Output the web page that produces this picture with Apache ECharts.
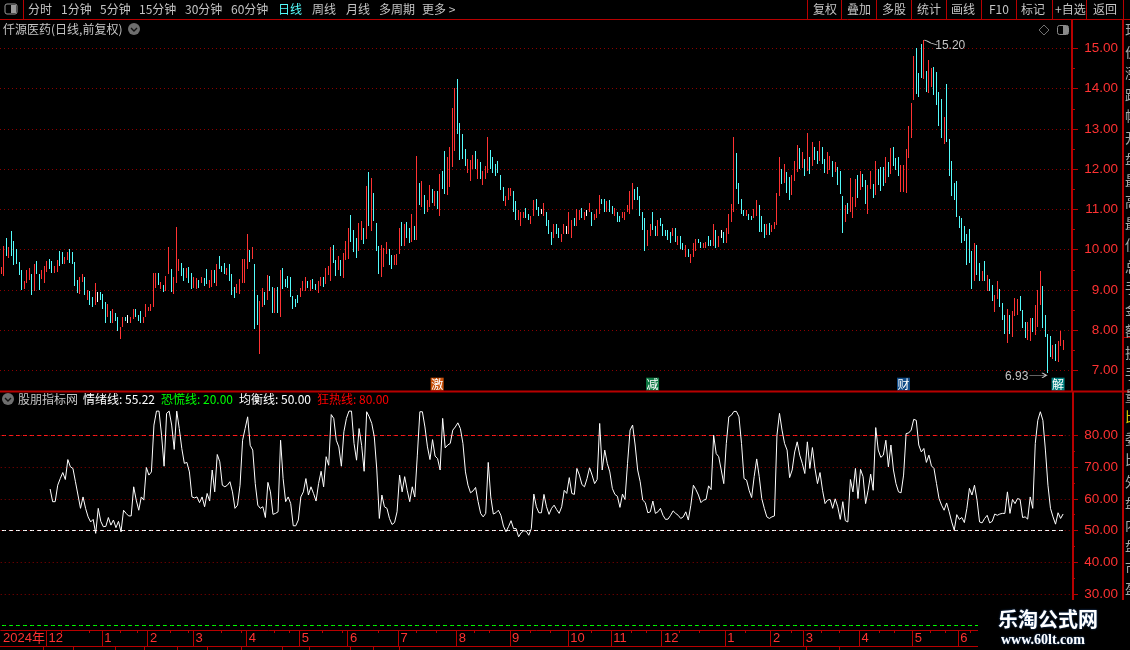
<!DOCTYPE html>
<html><head><meta charset="utf-8">
<script src="https://cdn.jsdelivr.net/npm/echarts@6/dist/echarts.min.js"></script>
<style>html,body{margin:0;padding:0;background:#000;overflow:hidden}#c{width:1130px;height:650px}</style>
</head><body><div id="c"></div>
<script>
const priceHigh = [
9.57,10.09,10.29,10.07,10.47,10.22,10.02,9.69,9.49,9.22,
9.49,9.54,9.39,9.64,9.72,9.39,9.49,9.59,9.72,9.77,
9.72,9.59,9.74,9.97,9.94,9.82,9.94,10.02,9.94,9.69,
9.24,9.32,9.39,9.32,8.99,8.97,8.82,9.17,8.94,8.94,
8.89,8.69,8.64,8.47,8.54,8.42,8.32,8.07,8.32,8.34,
8.39,8.32,8.52,8.52,8.37,8.47,8.34,8.64,8.59,8.64,
9.42,9.42,9.42,9.19,9.12,9.34,10.07,9.52,9.32,10.57,
9.77,9.67,9.54,9.54,9.57,9.42,9.32,9.29,9.24,9.32,
9.29,9.52,9.24,9.49,9.49,9.64,9.84,9.59,9.67,9.54,
9.64,9.39,9.07,9.14,9.27,9.77,9.77,10.39,9.99,10.07,
9.64,8.87,8.72,9.04,8.94,9.37,9.34,9.07,9.04,9.07,
9.49,9.54,9.27,9.34,9.32,8.84,8.77,8.87,9.04,9.22,
9.32,9.22,9.24,9.27,9.14,9.22,9.32,9.32,9.54,9.59,
10.07,10.12,9.74,9.84,9.74,9.92,10.22,10.54,10.87,10.49,
10.29,10.67,10.72,10.54,11.59,11.94,11.79,11.42,10.67,10.09,
10.13,10.05,10.20,10.03,9.88,9.88,9.90,10.53,10.68,10.63,
10.70,10.55,10.88,10.58,12.32,11.67,11.70,11.35,11.23,11.60,
11.50,11.47,11.45,11.87,11.95,12.45,12.30,12.55,13.52,14.02,
14.24,13.14,12.87,12.50,12.25,12.22,12.35,12.45,12.25,12.17,
11.95,12.07,12.80,12.47,12.30,12.12,12.20,11.85,11.55,11.33,
11.53,11.53,11.45,11.20,10.98,10.93,10.95,11.03,10.90,10.83,
11.23,11.25,11.05,11.00,11.15,10.93,10.75,10.45,10.63,10.63,
10.53,10.40,10.63,10.60,10.93,10.73,10.78,11.00,10.98,11.03,
10.93,10.98,11.15,10.93,10.90,11.00,11.37,11.27,11.27,11.20,
11.23,11.08,11.03,10.95,10.83,10.93,10.93,11.10,11.45,11.65,
11.50,11.55,11.33,10.95,10.80,10.48,10.63,10.95,10.60,10.75,
10.78,10.65,10.50,10.48,10.43,10.53,10.53,10.35,10.35,10.18,
10.13,10.03,9.90,10.16,10.26,10.26,10.20,10.18,10.20,10.35,
10.23,10.63,10.50,10.33,10.50,10.43,10.55,10.90,11.13,12.80,
12.40,11.65,11.27,10.98,10.98,10.90,10.83,11.00,11.23,11.10,
10.83,10.63,10.63,10.66,10.61,10.68,11.40,12.30,12.00,12.13,
11.93,11.80,11.85,12.20,12.60,12.53,12.43,12.25,12.90,12.30,
12.67,12.55,12.45,12.70,12.55,12.25,12.43,12.33,12.20,12.18,
12.05,11.95,11.33,11.10,11.15,11.78,11.30,11.75,11.85,11.95,
11.88,11.73,11.60,11.95,11.63,12.20,12.00,12.05,12.05,12.30,
12.18,12.53,12.55,12.28,12.30,12.10,12.10,12.50,13.07,13.65,
14.81,15.01,14.40,15.10,15.20,14.44,14.72,14.52,14.54,14.42,
13.92,13.75,13.29,14.12,12.75,12.20,11.65,11.70,10.83,10.80,
10.60,10.38,10.51,9.98,10.18,10.11,9.66,9.48,9.71,9.38,
9.28,9.13,8.88,9.23,9.03,8.68,8.38,8.53,8.38,8.48,
8.81,8.78,8.86,8.51,8.21,8.21,8.31,8.31,8.63,9.01,
9.46,9.11,8.38,7.91,7.86,7.63,7.66,7.73,7.98,7.76];
const priceLow = [
9.40,9.34,9.84,9.79,9.84,9.62,9.64,9.37,8.99,9.02,
9.17,9.24,8.87,8.97,9.39,8.99,9.27,9.17,9.44,9.52,
9.42,9.42,9.44,9.59,9.64,9.64,9.74,9.67,9.64,9.09,
8.92,8.89,9.19,8.87,8.74,8.62,8.59,8.62,8.69,8.74,
8.52,8.19,8.34,8.19,8.19,8.22,7.99,7.79,8.07,8.22,
8.19,8.17,8.29,8.32,8.22,8.17,8.19,8.34,8.47,8.49,
8.59,9.04,9.12,9.02,8.94,8.97,9.39,8.94,8.89,9.17,
9.47,9.34,9.22,9.29,9.17,9.02,9.04,9.02,9.04,9.17,
9.09,9.14,9.04,9.07,9.17,9.09,9.52,9.44,9.39,9.37,
9.22,8.87,8.79,8.92,8.89,9.17,9.17,9.52,9.69,9.77,
8.02,8.14,7.42,8.59,8.62,8.74,8.97,8.42,8.44,8.42,
8.32,9.02,9.07,9.04,8.82,8.52,8.57,8.67,8.82,8.97,
8.97,9.04,8.97,9.02,8.99,8.92,9.09,9.07,9.14,9.37,
9.22,9.67,9.34,9.49,9.34,9.29,9.74,9.77,10.19,9.94,
9.79,9.97,10.24,10.14,10.27,10.59,10.47,10.72,9.97,9.39,
9.33,9.56,9.90,9.63,9.53,9.63,9.63,9.90,10.10,10.10,
10.30,10.18,10.20,10.23,10.25,11.10,11.07,10.88,10.93,11.05,
11.15,11.08,11.00,10.85,11.50,11.38,11.35,11.55,12.05,12.45,
12.87,12.22,12.25,12.07,11.90,11.72,12.00,12.00,11.75,11.77,
11.62,11.77,11.90,12.00,11.90,11.82,11.90,11.48,11.20,11.08,
11.23,11.33,10.93,10.73,10.75,10.58,10.80,10.78,10.75,10.65,
10.83,10.98,10.85,10.88,10.85,10.58,10.40,10.13,10.30,10.38,
10.28,10.20,10.40,10.40,10.38,10.30,10.58,10.58,10.73,10.78,
10.73,10.85,10.93,10.58,10.73,10.80,10.88,11.13,10.95,10.93,
10.95,10.88,10.83,10.68,10.68,10.78,10.73,10.93,10.90,11.00,
11.23,11.23,10.83,10.50,9.98,10.10,10.35,10.48,10.35,10.35,
10.58,10.35,10.33,10.23,10.18,10.35,10.20,10.13,10.03,10.00,
9.83,9.81,9.66,9.81,9.98,10.16,10.05,10.05,10.05,10.10,
10.10,10.10,10.05,10.08,10.30,10.18,10.18,10.40,10.70,10.95,
11.50,11.13,10.88,10.83,10.83,10.73,10.73,10.80,10.83,10.43,
10.43,10.28,10.36,10.36,10.43,10.51,10.61,11.33,11.63,11.65,
11.40,11.23,11.35,11.70,11.93,12.00,12.03,11.83,11.95,11.88,
12.08,12.23,12.13,12.20,12.13,11.90,11.88,11.98,11.80,11.93,
11.60,11.38,10.42,10.68,10.88,10.93,10.78,11.05,11.28,11.48,
11.55,11.13,10.88,11.50,11.28,11.35,11.60,11.45,11.58,11.65,
11.80,11.88,12.08,11.98,11.83,11.43,11.43,11.40,12.27,12.77,
13.71,13.87,13.79,14.27,14.25,13.92,13.90,14.05,13.84,13.60,
13.07,12.77,12.63,12.67,11.83,11.33,11.23,10.81,10.53,10.18,
10.21,9.61,9.66,9.03,9.23,9.38,9.23,9.23,9.23,8.98,
8.98,8.73,8.46,8.78,8.58,8.26,7.91,7.68,7.91,7.83,
8.36,8.38,8.48,8.06,7.81,7.76,7.73,7.96,7.88,8.08,
8.63,8.06,7.83,6.93,7.33,7.28,7.23,7.21,7.61,7.51];
const barTone = ("rrcrcccccr"+"rrcrccrrrc"+"crrccrrccc"+"crrcrccrwc"+"ccrcrccrrc"+"wrrcccrrrr"+"rrcrcrrcrr"+"rccrccrrcr"+"ccrrcrcccr"+"cccrrrrrcr"+
"ccrrcrccrc"+"rcccccccrr"+"rcrccrrcrr"+"rccrcrrrcc"+"crrcrcrccc"+"rrrccrrrcr"+"ccrcrcrcrr"+"crcrccrrrr"+"ccccrrrcrc"+"rrrccccccr"+
"rrccrrrccr"+"rccwrcccrc"+"crrwrrcrrc"+"rwrcrrrccr"+"ccrccrrrrr"+"cccccrrccr"+"cccccrcrcc"+"rcrrrccrrc"+"crcrwcrrrr"+"ccccrccrrc"+
"ccrcrrrrcr"+"ccrrrcrcrc"+"rccrccrrcr"+"cccrcrrrcr"+"ccrrcrcccr"+"crcccrrrrr"+"rcccrcrrcc"+"ccrccccccc"+"ccccrccrcr"+"ccrrcccrcr"+
"rrcccrrcrr"+"rccccrcrrr").split('');
const sentiment = [
63.1,59.1,59.1,64.3,66.4,68.3,66.1,72.4,70.1,
69.6,65.4,61.2,57.0,60.6,57.0,54.3,52.7,53.5,49.1,
57.0,52.9,51.2,51.3,54.1,51.7,53.3,50.9,52.9,49.6,
56.4,55.4,54.6,54.6,63.8,59.6,56.4,60.6,59.6,69.9,
67.5,68.5,83.3,87.7,87.7,80.1,70.3,87.0,87.7,83.3,
75.6,87.7,82.2,75.9,71.2,71.5,68.5,60.6,60.3,60.6,
58.8,60.6,57.5,61.7,59.3,69.1,62.2,74.0,71.7,64.3,
63.8,64.3,65.4,62.2,57.0,58.0,64.3,78.5,82.2,85.9,
76.9,75.4,64.8,58.0,57.0,57.5,54.1,65.2,62.2,55.1,
55.4,55.9,78.5,66.4,59.1,60.6,58.5,51.5,51.5,53.3,
60.6,62.2,66.4,61.2,63.8,61.7,59.3,64.8,68.7,63.8,
73.3,70.6,86.6,85.4,78.5,76.4,70.3,81.2,85.4,87.7,
87.7,77.5,72.2,82.2,76.9,68.7,87.5,85.9,83.8,79.6,
69.1,53.8,61.2,57.5,57.0,53.8,51.9,52.5,55.9,67.5,
62.2,67.0,62.7,59.1,63.8,60.6,73.8,87.5,87.5,
82.7,76.4,72.4,78.7,73.5,72.7,69.1,85.4,76.1,
77.0,77.5,81.7,82.7,84.0,82.2,77.5,68.5,64.3,61.9,
62.5,63.6,59.1,55.4,54.3,55.4,71.5,60.6,
55.2,55.6,56.4,54.8,51.4,49.6,51.2,53.1,50.6,50.6,
48.0,49.3,49.9,49.8,48.5,50.6,61.5,57.5,55.6,55.6,
61.4,57.5,55.1,57.0,58.0,56.6,55.4,57.5,62.7,
61.7,66.7,61.7,61.4,69.6,67.5,64.5,63.8,66.4,69.8,
67.5,64.8,66.1,83.8,69.1,75.4,71.2,68.5,63.3,
61.4,60.8,57.3,61.5,59.8,71.2,81.7,83.3,77.0,69.1,
65.4,59.6,58.8,55.6,55.9,59.3,55.4,55.9,57.0,54.8,
53.5,53.6,54.8,56.2,55.4,54.8,53.8,54.3,55.9,53.3,58.0,
64.3,62.9,61.2,58.8,59.6,59.8,64.1,62.9,80.1,74.3,
73.3,69.1,64.8,77.5,85.9,86.4,87.6,87.6,85.9,77.5,
66.4,65.9,62.7,
60.4,67.0,72.6,67.0,60.1,57.0,54.3,53.8,54.3,
54.6,80.1,87.0,81.7,77.5,75.4,66.7,69.1,
74.8,78.0,73.8,71.2,68.0,78.0,69.6,76.2,69.6,64.8,
68.3,62.7,58.5,59.6,59.8,57.0,60.0,57.5,53.5,59.1,
53.1,52.7,66.1,62.2,69.6,60.1,69.3,67.0,58.5,
62.7,67.8,62.7,82.5,75.4,73.1,73.8,78.5,70.1,77.0,
69.1,64.8,62.2,61.9,67.5,80.6,80.8,81.7,85.1,84.8,
77.0,74.8,75.9,71.5,73.8,70.4,69.6,64.8,60.1,
58.0,56.4,58.7,55.9,52.7,50.1,55.0,53.5,54.1,52.5,
57.0,63.3,61.2,64.3,59.6,52.7,52.4,53.8,54.8,52.4,
52.9,55.2,54.8,55.2,55.4,55.4,62.2,55.4,59.8,58.5,
60.1,59.8,54.1,54.3,53.6,60.6,57.0,77.5,84.8,
87.5,84.8,75.4,64.3,57.0,54.3,52.0,55.6,53.8,
55.22];
const sentimentStart = 19;
const slotCount = 423;
const priceTicks = [7,8,9,10,11,12,13,14,15];
const priceHalfTicks = [7.5,8.5,9.5,10.5,11.5,12.5,13.5,14.5];
const moodTicks = [30,40,50,60,70,80];
const moodHalfTicks = [35,45,55,65,75];
const panicLevel = 20, balanceLevel = 50, maniaLevel = 80, latestMood = 55.22;
const monthStarts = [0,18,40,58,76,97,118,137,157,180,201,224,241,261,286,304,317,339,360,378];
const monthNames = ['2024年','12','1','2','3','4','5','6','7','8','9','10','11','12','1','2','3','4','5','6'];
const weekTicks = [24,35,47,54,67,74,87,95,108,114,127,135,149,164,172,187,193,209,217,233,249,255,268,276,294,312,324,331,347,353,367,373,383];
const signalNames = ['激','减','财','解'];
const signalSlots = [172,257,356,417];
const toolbarLeft = ['分时','1分钟','5分钟','15分钟','30分钟','60分钟','日线','周线','月线','多周期','更多 >'];
const toolbarRight = ['复权','叠加','多股','统计','画线','F10','标记','+自选','返回'];

const RED='#ff3232', CYAN='#54fcfc', AXIS='#b80000', GRID='#8c0000', TXT='#c4c4c4';
const CJK='"Noto Sans CJK SC","Liberation Sans",sans-serif';
const NUM='"Liberation Sans","Noto Sans CJK SC",sans-serif';
const toneColor={r:RED,c:CYAN,w:'#ffffff'};
const slots = Array.from({length:slotCount},(_,i)=>String(i));
const candles = priceHigh.map((h,i)=>[i,h,priceLow[i]]);
const mood = slots.map((_,i)=> i>=sentimentStart && i-sentimentStart<sentiment.length ? sentiment[i-sentimentStart] : null);
const lastSlot = priceHigh.length-1;
const monthMap = {}; monthStarts.forEach((s,i)=>monthMap[s]=monthNames[i]);

const g=[];
const text=(x,y,t,fill,font)=>g.push({type:'text',x,y,z:20,silent:true,style:{text:t,fill:fill||TXT,font:font||('12px '+CJK),textVerticalAlign:'middle'}});
const line=(x1,y1,x2,y2,c,w)=>g.push({type:'line',z:15,silent:true,shape:{x1,y1,x2,y2},style:{stroke:c||AXIS,lineWidth:w||1}});
line(0,19.5,1130,19.5);
[23,807,841,876,911,946,981,1016,1052,1086,1123].forEach(x=>line(x+.5,0,x+.5,19));
g.push({type:'rect',z:20,silent:true,shape:{x:5,y:4,width:12,height:10,r:2},style:{fill:'#000',stroke:'#9a9a9a',lineWidth:1}});
g.push({type:'rect',z:21,silent:true,shape:{x:11,y:5,width:5,height:8},style:{fill:'#9a9a9a'}});
[28,61,100,139,185,231,278,312,346,379,422].forEach((x,i)=>text(x,9.5,toolbarLeft[i],i===6?'#54fcfc':TXT));
[813,847,882,917,951,989,1021,1055,1093].forEach((x,i)=>text(x,9.5,toolbarRight[i]));
text(3,29,'仟源医药(日线,前复权)');
const chevron=(cx,cy)=>{
  g.push({type:'circle',z:20,silent:true,shape:{cx,cy,r:6},style:{fill:'#6e6e6e'}});
  g.push({type:'polyline',z:21,silent:true,shape:{points:[[cx-3,cy-1],[cx,cy+2],[cx+3,cy-1]]},style:{stroke:'#111',lineWidth:1.4,fill:'none'}});
};
chevron(134,29);
g.push({type:'polygon',z:20,silent:true,shape:{points:[[1044,25],[1049,30],[1044,35],[1039,30]]},style:{fill:'none',stroke:'#707070',lineWidth:1}});
g.push({type:'rect',z:20,silent:true,shape:{x:1057.5,y:25.5,width:11,height:9,r:2},style:{fill:'#000',stroke:'#8a8a8a',lineWidth:1}});
g.push({type:'rect',z:21,silent:true,shape:{x:1063,y:26,width:5,height:8},style:{fill:'#8a8a8a'}});
line(0,391.5,1130,391.5,AXIS,2);
line(1073,391,1073,600,AXIS,2);
line(1123,20,1123,600,AXIS,2);
line(1123,337.5,1130,337.5);
chevron(8,399);
text(18,399.5,'股朋指标网');
text(83,399.5,'情绪线: '+latestMood.toFixed(2),'#ffffff');
text(161,399.5,'恐慌线: '+panicLevel.toFixed(2),'#00ff00');
text(239,399.5,'均衡线: '+balanceLevel.toFixed(2),'#ffffff');
text(317,399.5,'狂热线: '+maniaLevel.toFixed(2),'#ff0000');
const sideChars=['现','价','涨','跌','幅','开','盘','最','高','最','低','总','手','金','额','换','手','量','比','委','比','外','盘','内','盘','市','盈'];
sideChars.forEach((c,i)=>text(1125,30+i*21.5,c,i===18?'#d8c800':'#a8a8a8','14px '+CJK));
g.push({type:'rect',z:30,silent:true,shape:{x:978,y:605,width:152,height:45},style:{fill:'#000'}});
line(0,646.5,978,646.5);
[43,73,115,144,177,207,241,282,309,350,373,399,806,839].forEach(x=>line(x+.5,647,x+.5,650));
g.push({type:'text',x:998,y:619,z:31,silent:true,style:{text:'乐淘公式网',fill:'#fff',font:'bold 20px '+CJK,textVerticalAlign:'middle',textShadowColor:'#2a5a9a',textShadowBlur:2}});
g.push({type:'text',x:1001,y:640,z:31,silent:true,style:{text:'www.60lt.com',fill:'#fff',font:'bold 14px "Liberation Serif",serif',textVerticalAlign:'middle',textShadowColor:'#2a5a9a',textShadowBlur:2}});

const signalColors=['#c8500a','#0e7a44','#0f4a86','#008080'];
const signalMarks = signalNames.map((n,i)=>({
  coord:[signalSlots[i],6.66],symbol:'rect',symbolSize:[13,13],itemStyle:{color:signalColors[i],borderWidth:0},
  label:{show:true,formatter:n,position:'inside',color:'#fff',fontSize:12,fontFamily:CJK}
}));
const hiSlot = priceHigh.indexOf(Math.max(...priceHigh));
const loSlot = priceLow.indexOf(Math.min(...priceLow));
const noteMarks = [
 {coord:[hiSlot,priceHigh[hiSlot]],symbol:'path://M0 0L3 1L7 3L14 5',symbolSize:[13,5],symbolOffset:[7,2],itemStyle:{color:'none',borderColor:TXT,borderWidth:1},label:{show:false}},
 {coord:[hiSlot,priceHigh[hiSlot]],symbol:'circle',symbolSize:1,itemStyle:{color:'rgba(0,0,0,0)'},label:{show:true,position:'right',distance:11,offset:[0,5],formatter:priceHigh[hiSlot].toFixed(2),color:TXT,fontSize:12,fontFamily:NUM}},
 {coord:[loSlot,priceLow[loSlot]],symbol:'path://M0 3L16 3L12 0L16 3L12 6',symbolSize:[17,5],symbolOffset:[-10,2],itemStyle:{color:'none',borderColor:TXT,borderWidth:1},label:{show:false}},
 {coord:[loSlot,priceLow[loSlot]],symbol:'circle',symbolSize:1,itemStyle:{color:'rgba(0,0,0,0)'},label:{show:true,position:'left',distance:19,offset:[0,3],formatter:priceLow[loSlot].toFixed(2),color:TXT,fontSize:12,fontFamily:NUM}}
];
// the three reference levels are flat series over the traded slots
const levelSeries=(name,v,c)=>({type:'line',name,xAxisIndex:1,yAxisIndex:2,silent:true,showSymbol:false,
  data:priceHigh.map(()=>v),lineStyle:{color:c,type:[4,3],width:1}});

const chart=echarts.init(document.getElementById('c'),null,{renderer:'canvas'});
const tickAxis=(o)=>Object.assign({type:'value',position:'right',axisLine:{show:false},axisLabel:{show:false},splitLine:{show:false}},o);
const priceMin=6.4907, priceMax=15.708, moodMin=18.579, moodMax=94.053;
chart.setOption({
 animation:false,backgroundColor:'#000',
 grid:[{left:0,width:1072,top:20,height:371},{left:0,width:1072,top:391,height:239}],
 xAxis:[
  {type:'category',gridIndex:0,data:slots,show:false,boundaryGap:true},
  {type:'category',gridIndex:1,data:slots,boundaryGap:true,position:'bottom',
   axisLine:{show:true,onZero:false,lineStyle:{color:AXIS,width:1}},
   axisTick:{show:true,length:16,lineStyle:{color:AXIS},interval:(i)=>monthMap[i]!==undefined&&i>0},
   axisLabel:{show:true,interval:(i)=>monthMap[i]!==undefined,formatter:(v,i)=>monthMap[i]||'',color:RED,fontSize:13,fontFamily:NUM,align:'left',margin:2,padding:[0,0,0,1],hideOverlap:false},
   splitLine:{show:false}},
  {type:'category',gridIndex:1,data:slots,boundaryGap:true,position:'bottom',
   axisLine:{show:false},axisLabel:{show:false},splitLine:{show:false},
   axisTick:{show:true,length:3,lineStyle:{color:AXIS},interval:(i)=>weekTicks.includes(i)}}
 ],
 yAxis:[
  {type:'value',gridIndex:0,position:'right',min:priceMin,max:priceMax,
   axisLine:{show:true,onZero:false,lineStyle:{color:AXIS,width:2}},
   axisTick:{show:true,length:6,customValues:priceTicks,lineStyle:{color:AXIS}},
   axisLabel:{show:true,customValues:priceTicks,formatter:v=>v.toFixed(2),color:RED,fontSize:13.5,fontFamily:NUM,align:'right',margin:46,padding:[2,0,0,0]},
   splitLine:{show:true,lineStyle:{color:GRID,type:[1,3],width:1}}},
  tickAxis({gridIndex:0,min:priceMin,max:priceMax,axisTick:{show:true,length:3,customValues:priceHalfTicks,lineStyle:{color:AXIS}}}),
  {type:'value',gridIndex:1,position:'right',min:moodMin,max:moodMax,
   axisLine:{show:false},
   axisTick:{show:true,length:6,customValues:moodTicks,lineStyle:{color:AXIS}},
   axisLabel:{show:true,customValues:moodTicks,formatter:v=>v.toFixed(2),color:RED,fontSize:13.5,fontFamily:NUM,align:'right',margin:46,padding:[2,0,0,0]},
   splitLine:{show:true,lineStyle:{color:GRID,type:[1,3],width:1}}},
  tickAxis({gridIndex:1,min:moodMin,max:moodMax,axisTick:{show:true,length:3,customValues:moodHalfTicks,lineStyle:{color:AXIS}}})
 ],
 series:[
  {type:'custom',name:'仟源医药',xAxisIndex:0,yAxisIndex:0,data:candles,silent:true,clip:true,
   encode:{x:0,y:[1,2]},
   renderItem:(params,api)=>{
     const i=api.value(0), top=api.coord([i,api.value(1)]), bot=api.coord([i,api.value(2)]);
     const y=Math.round(top[1]);
     return {type:'rect',shape:{x:Math.floor(top[0]),y,width:1,height:Math.max(1,Math.round(bot[1])-y)},style:{fill:toneColor[barTone[i]]}};
   },
   markPoint:{silent:true,animation:false,data:signalMarks.concat(noteMarks)}},
  levelSeries('恐慌线',panicLevel,'#00ff00'),
  levelSeries('均衡线',balanceLevel,'#ffffff'),
  levelSeries('狂热线',maniaLevel,'#ff1a1a'),
  {type:'line',name:'情绪线',xAxisIndex:1,yAxisIndex:2,data:mood,showSymbol:false,connectNulls:false,silent:true,
   lineStyle:{color:'#ffffff',width:1}}
 ],
 graphic:{elements:g}
});
</script></body></html>
